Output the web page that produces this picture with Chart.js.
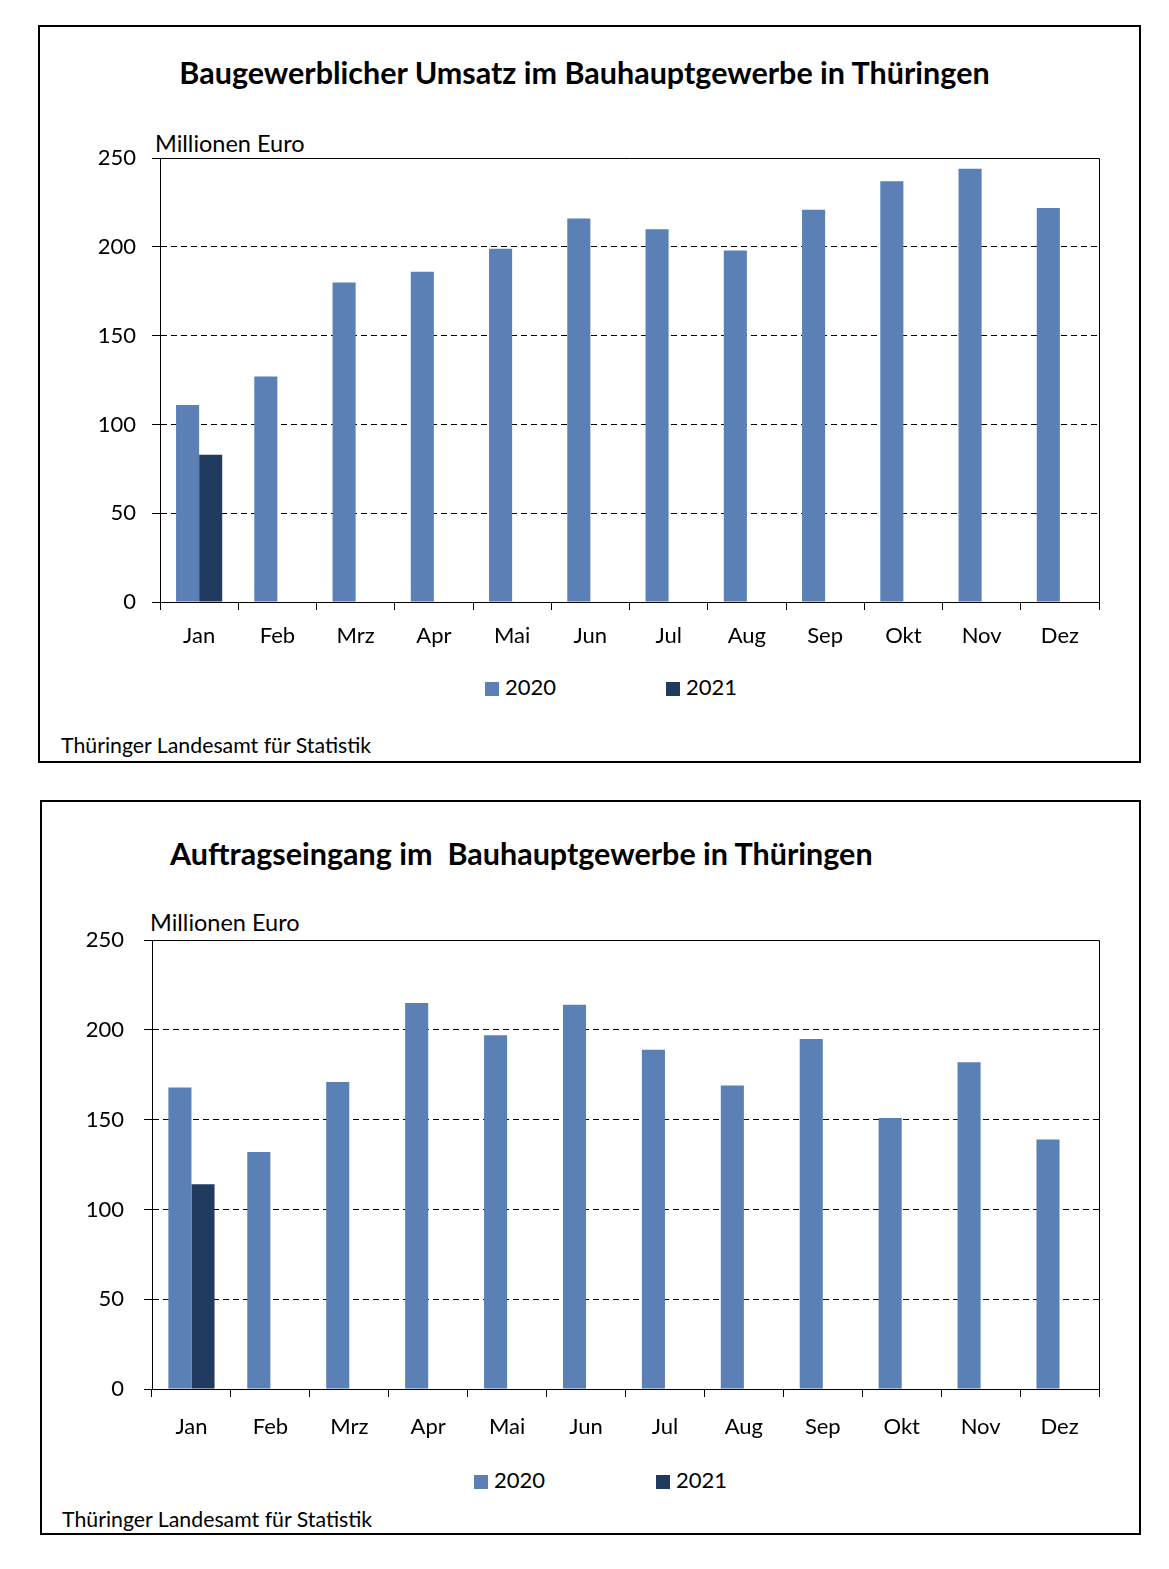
<!DOCTYPE html>
<html lang="de">
<head>
<meta charset="utf-8">
<script src="https://cdn.jsdelivr.net/npm/chart.js@4.4.1/dist/chart.umd.min.js"></script>
<style>
  body { margin: 0; background: #fff; font-family: Lato, sans-serif; color: #000; }
  .box { position: absolute; border: 2px solid #000; }
  .txt { position: absolute; white-space: pre; line-height: 30px; }
  .title { font-weight: bold; font-size: 30.5px; }
  .unit { font-size: 23.5px; }
  .src { font-size: 21.3px; }
  .wrap { position: absolute; }
  .leg { position: absolute; font-size: 22px; line-height: 30px; white-space: nowrap; }
  .leg span.sw { display: inline-block; width: 14px; height: 14px; vertical-align: -1px; margin-right: 6px; }
</style>
</head>
<body>

<div class="box" style="left:38px;top:25px;width:1099px;height:734px"></div>
<div class="txt title" style="left:0;width:1169px;text-align:center;top:57px">Baugewerblicher Umsatz im Bauhauptgewerbe in Thüringen</div>
<div class="txt unit" style="left:155px;top:128px">Millionen Euro</div>
<div class="wrap" style="left:60px;top:129px;width:1060px;height:536px"><canvas id="chart1"></canvas></div>
<div id="leg1"></div>
<div class="txt src" style="left:61px;top:730px">Thüringer Landesamt für Statistik</div>

<div class="box" style="left:40px;top:800px;width:1097px;height:731px"></div>
<div class="txt title" style="left:170px;top:838px">Auftragseingang im  Bauhauptgewerbe in Thüringen</div>
<div class="txt unit" style="left:150px;top:907px">Millionen Euro</div>
<div class="wrap" style="left:52px;top:907px;width:1068px;height:543px"><canvas id="chart2"></canvas></div>
<div id="leg2"></div>
<div class="txt src" style="left:62px;top:1504px">Thüringer Landesamt für Statistik</div>

<script>
// Werte in Millionen Euro
const months = ['Jan', 'Feb', 'Mrz', 'Apr', 'Mai', 'Jun', 'Jul', 'Aug', 'Sep', 'Okt', 'Nov', 'Dez'];
const umsatz2020 = [111, 127, 180, 186, 199, 216, 210, 198, 221, 237, 244, 222];
const umsatz2021 = [83, null, null, null, null, null, null, null, null, null, null, null];
const auftrag2020 = [168, 132, 171, 215, 197, 214, 189, 169, 195, 151, 182, 139];
const auftrag2021 = [114, null, null, null, null, null, null, null, null, null, null, null];
const yTickValues = [0, 50, 100, 150, 200, 250];
const seriesLabels = ['2020', '2021'];

const col2020 = '#5b80b6';
const col2021 = '#203a60';
const tickFont = { family: 'Lato', size: 22 };

// Rahmen oben und rechts ums Diagramm (pixelgenau wie die Gitterlinien)
const frame = {
  id: 'frame',
  afterDatasetsDraw(chart) {
    const a = chart.chartArea, c = chart.ctx;
    const top = Math.round(a.top - 0.5) + 0.5;
    const right = Math.round(a.right - 0.5) + 0.5;
    c.save();
    c.strokeStyle = '#000';
    c.lineWidth = 1;
    c.setLineDash([]);
    c.beginPath();
    c.moveTo(a.left, top);
    c.lineTo(right, top);
    c.lineTo(right, a.bottom);
    c.stroke();
    c.restore();
  }
};

function makeChart(id, d2020, d2021, opt) {
  const ctx = document.getElementById(id).getContext('2d');
  return new Chart(ctx, {
    type: 'bar',
    data: {
      labels: months,
      datasets: [
        { label: seriesLabels[0], data: d2020, backgroundColor: col2020 },
        { label: seriesLabels[1], data: d2021, backgroundColor: col2021 }
      ]
    },
    options: {
      responsive: true,
      maintainAspectRatio: false,
      animation: false,
      categoryPercentage: opt.catPct,
      barPercentage: 1.0,
      layout: { padding: { top: opt.padTop, right: opt.padRight, left: 0, bottom: 0 } },
      plugins: { legend: { display: false }, tooltip: { enabled: false } },
      scales: {
        x: {
          grid: { drawOnChartArea: false, offset: true, color: '#000', tickLength: 8 },
          border: { color: '#000' },
          ticks: { color: '#000', padding: opt.xPad, font: tickFont },
          afterFit(s) { s.height = opt.xHeight; }
        },
        y: {
          min: 0, max: 250,
          afterBuildTicks(s) { s.ticks = yTickValues.map(v => ({ value: v })); },
          grid: { color: '#000', tickLength: 8, tickColor: '#000' },
          border: { color: '#000', dash: [6, 4] },
          ticks: { color: '#000', padding: opt.yPad, font: tickFont },
          afterFit(s) { s.width = 100; }
        }
      }
    },
    plugins: [frame]
  });
}

function makeLegend(id, chart, pos) {
  const el = document.getElementById(id);
  chart.data.datasets.forEach((ds, i) => {
    const d = document.createElement('div');
    d.className = 'leg';
    d.style.left = pos[i].x + 'px';
    d.style.top = pos[i].y + 'px';
    d.innerHTML = '<span class="sw" style="background:' + ds.backgroundColor + '"></span>' + ds.label;
    el.appendChild(d);
  });
}

const c1 = makeChart('chart1', umsatz2020, umsatz2021,
  { catPct: 0.59, padTop: 9, padRight: 21, xHeight: 63, xPad: 13, yPad: 16 });
const c2 = makeChart('chart2', auftrag2020, auftrag2021,
  { catPct: 0.585, padTop: 10, padRight: 21, xHeight: 61, xPad: 17, yPad: 20 });

makeLegend('leg1', c1, [{ x: 485, y: 672 }, { x: 666, y: 672 }]);
makeLegend('leg2', c2, [{ x: 474, y: 1465 }, { x: 656, y: 1465 }]);
</script>
</body>
</html>
